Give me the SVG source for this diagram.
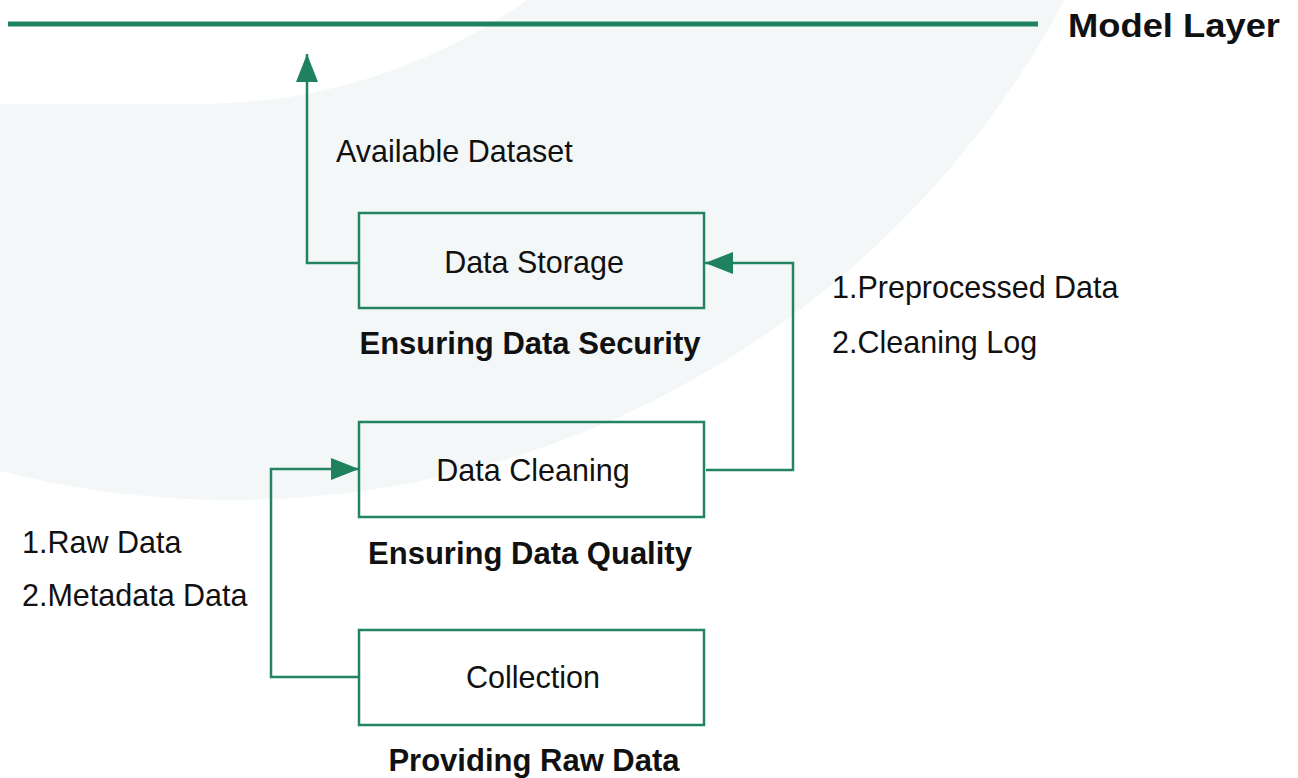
<svg xmlns="http://www.w3.org/2000/svg" width="1298" height="778" viewBox="0 0 1298 778">
  <style>
    .bg { fill: #f4f7f8; }
    .box { fill: none; stroke: #238462; stroke-width: 2.5; }
    .wire { fill: none; stroke: #238462; stroke-width: 2.5; }
    .txt { font-family: "Liberation Sans", Arial, sans-serif; font-size: 30.5px; fill: #111; }
    .mid { text-anchor: middle; }
    .bold { font-weight: bold; font-size: 31px; }
  </style>
  <defs>
    <marker id="head" viewBox="0 0 28 22" refX="28" refY="11" markerWidth="28" markerHeight="22" markerUnits="userSpaceOnUse" orient="auto">
      <path d="M0,0 L28,11 L0,22 Z" fill="#1f815e"/>
    </marker>
  </defs>

  <!-- background sweep -->
  <rect width="1298" height="778" fill="#ffffff"/>
  <circle class="bg" cx="232" cy="-443" r="943"/>
  <path d="M527,0 A566,566 0 0 1 200,104 L0,104 L0,0 Z" fill="#ffffff"/>

  <!-- model layer boundary -->
  <g id="model-layer">
    <line x1="8" y1="24" x2="1038" y2="24" stroke="#1f815e" stroke-width="5"/>
    <text class="txt bold" x="1068" y="37" style="font-size:33px" textLength="212" lengthAdjust="spacingAndGlyphs">Model Layer</text>
  </g>

  <!-- connectors -->
  <g id="connectors">
    <polyline class="wire" points="358,263 307,263 307,54" marker-end="url(#head)"/>
    <polyline class="wire" points="706,470 793,470 793,263 705,263" marker-end="url(#head)"/>
    <polyline class="wire" points="358,677 271,677 271,469 359,469" marker-end="url(#head)"/>
    <text class="txt" x="336" y="162">Available Dataset</text>
    <text class="txt" x="832" y="298">1.Preprocessed Data</text>
    <text class="txt" x="832" y="353">2.Cleaning Log</text>
    <text class="txt" x="22" y="553">1.Raw Data</text>
    <text class="txt" x="22" y="606">2.Metadata Data</text>
  </g>

  <g id="data-storage">
    <rect class="box" x="359" y="213" width="345" height="95"/>
    <text class="txt mid" x="534" y="273">Data Storage</text>
    <text class="txt mid bold" x="530" y="354">Ensuring Data Security</text>
  </g>

  <g id="data-cleaning">
    <rect class="box" x="359" y="422" width="345" height="95"/>
    <text class="txt mid" x="533" y="481">Data Cleaning</text>
    <text class="txt mid bold" x="530" y="564">Ensuring Data Quality</text>
  </g>

  <g id="collection">
    <rect class="box" x="359" y="630" width="345" height="95"/>
    <text class="txt mid" x="533" y="688">Collection</text>
    <text class="txt mid bold" x="534" y="771">Providing Raw Data</text>
  </g>
</svg>
